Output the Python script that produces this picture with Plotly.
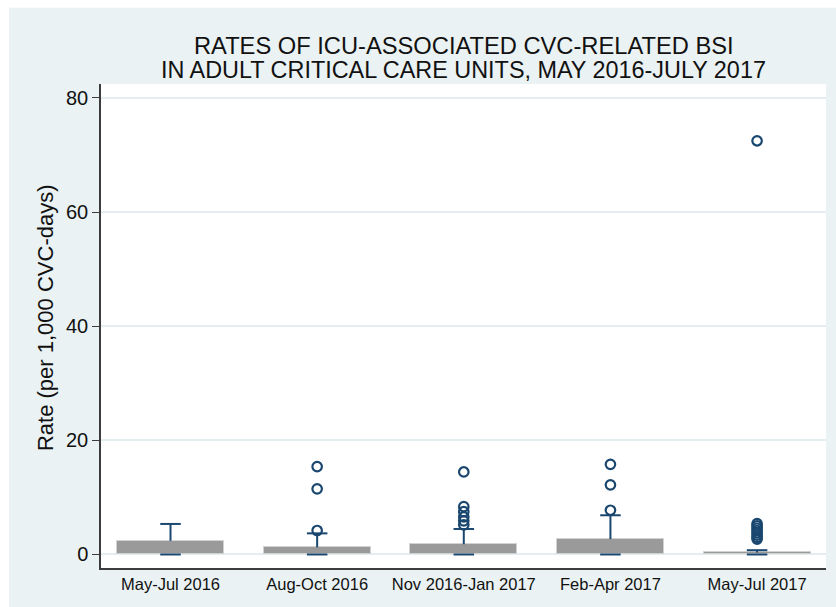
import plotly.graph_objects as go

# Quarterly ICU-associated CVC-related BSI rates (per 1,000 CVC-days)
categories = ["May-Jul 2016", "Aug-Oct 2016", "Nov 2016-Jan 2017", "Feb-Apr 2017", "May-Jul 2017"]
q1 = [0.0, 0.0, 0.0, 0.0, 0.0]
q3 = [2.4, 1.26, 1.8, 2.7, 0.35]
lower_whisker = [0.0, 0.0, 0.0, 0.0, 0.0]
upper_whisker = [5.35, 3.7, 4.47, 6.87, 0.75]
outliers = [
    [],
    [15.4, 11.5, 4.2],
    [14.46, 8.38, 7.5, 6.6, 5.9, 5.2],
    [15.8, 12.2, 7.75],
    [72.5, 5.4, 5.0, 4.6, 4.2, 3.8, 3.4, 3.0, 2.7],
]
y_ticks = [0, 20, 40, 60, 80]

FONT = "Liberation Sans, Arial, sans-serif"
NAVY = "#1a476f"
BG = "#eaf2f3"
CAP = 0.07

positions = list(range(len(categories)))

fig = go.Figure()

# Interquartile boxes
fig.add_trace(go.Bar(
    x=positions,
    y=[b - a for a, b in zip(q1, q3)],
    base=q1,
    width=0.73,
    marker=dict(color="#9a9a9a", line=dict(color="#d2d2d2", width=1)),
    hoverinfo="skip",
))

# Whiskers and caps
wx, wy = [], []
for i, (a, b, lo, hi) in enumerate(zip(q1, q3, lower_whisker, upper_whisker)):
    wx += [i, i, None, i - CAP, i + CAP, None, i - CAP, i + CAP, None]
    wy += [b, hi, None, hi, hi, None, lo, lo, None]
fig.add_trace(go.Scatter(
    x=wx, y=wy, mode="lines",
    line=dict(color=NAVY, width=2),
    hoverinfo="skip",
))

# Outside values
ox, oy = [], []
for i, vals in enumerate(outliers):
    ox += [i] * len(vals)
    oy += vals
fig.add_trace(go.Scatter(
    x=ox, y=oy, mode="markers",
    marker=dict(symbol="circle-open", size=9.5, color=NAVY, line=dict(width=2.2, color=NAVY)),
))

# Title, two lines
fig.add_annotation(text="RATES OF ICU-ASSOCIATED CVC-RELATED BSI",
                   xref="paper", yref="paper", x=0.5, y=1.0785,
                   xanchor="center", yanchor="middle", showarrow=False,
                   font=dict(family=FONT, size=23.7, color="#111"))
fig.add_annotation(text="IN ADULT CRITICAL CARE UNITS, MAY 2016-JULY 2017",
                   xref="paper", yref="paper", x=0.5, y=1.029,
                   xanchor="center", yanchor="middle", showarrow=False,
                   font=dict(family=FONT, size=23.4, color="#111"))

# Y-axis title
fig.add_annotation(text="Rate (per 1,000 CVC-days)",
                   xref="paper", yref="paper", x=-0.0772, y=0.5165,
                   xanchor="center", yanchor="middle", textangle=-90, showarrow=False,
                   font=dict(family=FONT, size=22, color="#111"))

# Thin white border on the top and left of the graph region
fig.add_shape(type="rect", xref="paper", yref="paper",
              x0=-0.2, x1=1.1, y0=1.1574, y1=1.3,
              fillcolor="white", line=dict(width=0), layer="below")
fig.add_shape(type="rect", xref="paper", yref="paper",
              x0=-0.2, x1=-0.1269, y0=-0.2, y1=1.3,
              fillcolor="white", line=dict(width=0), layer="below")

fig.update_layout(
    width=836, height=607,
    margin=dict(l=101, r=10, t=84, b=39, autoexpand=False),
    paper_bgcolor=BG,
    plot_bgcolor="white",
    showlegend=False,
    font=dict(family=FONT, color="#111"),
    bargap=0,
)
fig.update_xaxes(
    range=[-0.474, 4.47],
    tickvals=positions, ticktext=categories,
    ticks="", showgrid=False, zeroline=False,
    showline=True, linecolor="#3c3c3c", linewidth=1.5,
    tickfont=dict(size=16.5, color="#111"),
)
fig.update_yaxes(
    range=[-2.37, 82.45],
    tickvals=y_ticks,
    ticks="outside", ticklen=7, tickcolor="#3c3c3c", tickwidth=1.2,
    showgrid=True, gridcolor="#e4edf0", gridwidth=1.5,
    zeroline=False,
    showline=True, linecolor="#3c3c3c", linewidth=1.5,
    tickfont=dict(size=20, color="#111"),
)

fig.write_html("out.html")
